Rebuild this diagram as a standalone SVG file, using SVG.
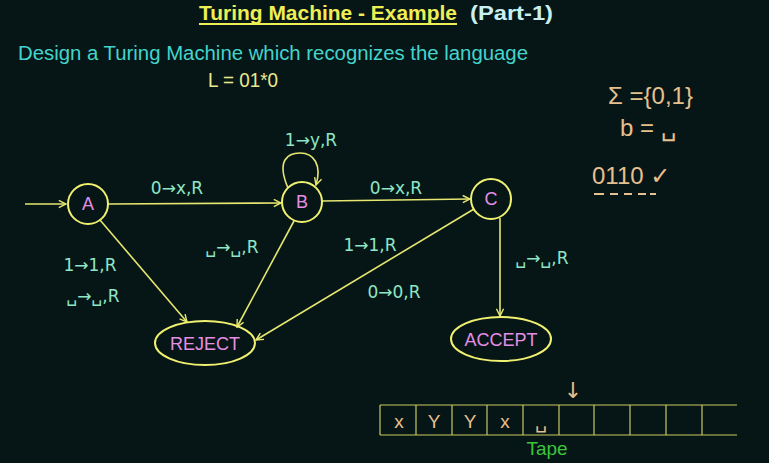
<svg xmlns="http://www.w3.org/2000/svg" width="769" height="463" viewBox="0 0 769 463">
<defs>
<style>
text{font-family:"Liberation Sans","DejaVu Sans",sans-serif}
.edge{stroke:#e6e670;stroke-width:1.6;fill:none}
.node{stroke:#f0f070;stroke-width:2;fill:none}
.nl{fill:#e48ee4;font-size:18px;text-anchor:middle}
.lbl{fill:#8ee6c6;font-size:17px;text-anchor:middle;font-family:"DejaVu Sans",sans-serif}
.hand{fill:#e6c08e;font-size:24px}
.tape{stroke:#c8c860;stroke-width:1.2;fill:none}
.cell{fill:#e6c08e;font-size:19px;text-anchor:middle}
.arr{fill:#e6c08e;font-size:22px;text-anchor:middle;font-family:"DejaVu Sans",sans-serif}
</style>
<marker id="ah" viewBox="0 0 10 10" refX="9" refY="5" markerWidth="9" markerHeight="9" markerUnits="userSpaceOnUse" orient="auto">
<path d="M1,1 L9,5 L1,9" fill="none" stroke="#e6e670" stroke-width="1.6"/>
</marker>
</defs>
<rect width="769" height="463" fill="#061616"/>
<g id="title">
<text x="199" y="20" fill="#eeee55" font-size="21" font-weight="bold" textLength="258" lengthAdjust="spacingAndGlyphs">Turing Machine - Example</text>
<line x1="199" y1="24" x2="457" y2="24" stroke="#eeee55" stroke-width="2"/>
<text x="470" y="20" fill="#c8f0f0" font-size="21" font-weight="bold" textLength="83" lengthAdjust="spacingAndGlyphs">(Part-1)</text>
<text x="18" y="60" fill="#44d4cc" font-size="20" textLength="510" lengthAdjust="spacingAndGlyphs">Design a Turing Machine which recognizes the language</text>
<text x="208" y="87" fill="#ece88e" font-size="20" textLength="70" lengthAdjust="spacingAndGlyphs">L = 01*0</text>
</g>
<g id="notes">
<text x="608" y="104" class="hand">Σ ={0,1}</text>
<text x="620" y="136" class="hand">b = ␣</text>
<text x="592" y="184" class="hand">0110 ✓</text>
<path d="M594 194h10M610 194h8M624 194h8M638 194h8M650 194h6" stroke="#e6c08e" stroke-width="2"/>
</g>
<g id="connectors">
<line class="edge" x1="25" y1="204" x2="66" y2="204" marker-end="url(#ah)"/>
<line class="edge" x1="108" y1="204" x2="281" y2="203" marker-end="url(#ah)"/>
<path class="edge" d="M288 188 C276 160 288 153 300 153 C314 153 322 165 316 185" marker-end="url(#ah)"/>
<line class="edge" x1="322" y1="201" x2="470" y2="199" marker-end="url(#ah)"/>
<line class="edge" x1="100" y1="220" x2="187" y2="322" marker-end="url(#ah)"/>
<line class="edge" x1="294" y1="221" x2="237" y2="327" marker-end="url(#ah)"/>
<line class="edge" x1="474" y1="209" x2="256" y2="340" marker-end="url(#ah)"/>
<line class="edge" x1="500" y1="218" x2="500" y2="316" marker-end="url(#ah)"/>
<text class="lbl" x="177" y="194">0→x,R</text>
<text class="lbl" x="311" y="146">1→y,R</text>
<text class="lbl" x="396" y="194">0→x,R</text>
<text class="lbl" x="90" y="271">1→1,R</text>
<text class="lbl" x="93" y="302">␣→␣,R</text>
<text class="lbl" x="232" y="253">␣→␣,R</text>
<text class="lbl" x="370" y="251">1→1,R</text>
<text class="lbl" x="394" y="298">0→0,R</text>
<text class="lbl" x="542" y="264">␣→␣,R</text>
</g>
<g id="A"><circle class="node" cx="88" cy="204" r="20"/><text class="nl" x="88" y="210">A</text></g>
<g id="B"><circle class="node" cx="302" cy="202" r="20"/><text class="nl" x="302" y="208">B</text></g>
<g id="C"><circle class="node" cx="491" cy="199" r="20"/><text class="nl" x="491" y="205">C</text></g>
<g id="REJECT"><ellipse class="node" cx="205" cy="343" rx="50" ry="22"/><text class="nl" x="205" y="350">REJECT</text></g>
<g id="ACCEPT"><ellipse class="node" cx="501" cy="339" rx="50" ry="22"/><text class="nl" x="501" y="346">ACCEPT</text></g>
<g id="tape">
<line class="tape" x1="380" y1="405" x2="737" y2="405"/>
<line class="tape" x1="380" y1="435" x2="737" y2="435"/>
<path class="tape" d="M380 405v30M416 405v30M452 405v30M487 405v30M523 405v30M559 405v30M594 405v30M630 405v30M666 405v30M702 405v30"/>
<text class="cell" x="399" y="428">x</text>
<text class="cell" x="434" y="428">Y</text>
<text class="cell" x="470" y="428">Y</text>
<text class="cell" x="505" y="428">x</text>
<text class="cell" x="541" y="428">␣</text>
<text class="arr" x="573" y="398">↓</text>
<text x="547" y="455" fill="#3cc43c" font-size="19" text-anchor="middle">Tape</text>
</g>
</svg>
